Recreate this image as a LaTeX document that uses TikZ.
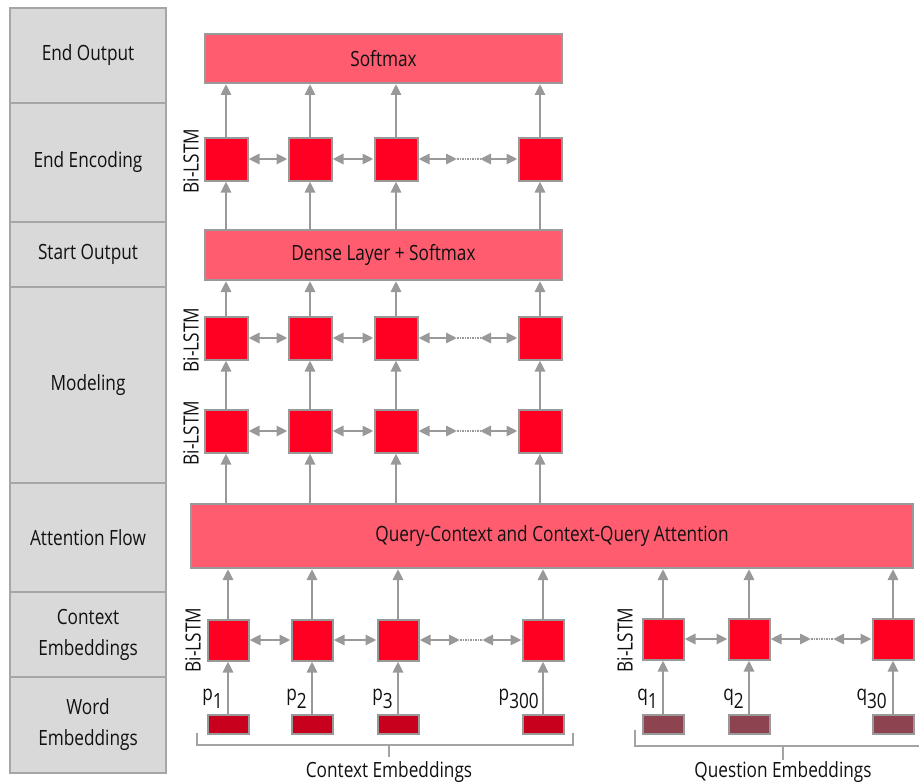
\documentclass[tikz,border=0pt]{standalone}
\usepackage{fontspec}
\setmainfont{Open Sans}[FakeStretch=0.82]
\usetikzlibrary{arrows.meta}
\definecolor{lstmred}{HTML}{FF0022}
\definecolor{bigred}{HTML}{FF5C70}
\definecolor{cembc}{HTML}{C8001E}
\definecolor{qembc}{HTML}{8E4450}
\definecolor{edgec}{HTML}{999999}
\definecolor{colfill}{HTML}{D9D9D9}
\definecolor{coledge}{HTML}{A6A6A6}
\definecolor{txtc}{HTML}{111111}
\begin{document}
\begin{tikzpicture}[x=1pt,y=-1pt,font=\fontsize{21}{31}\selectfont,text=txtc,
  lbl/.style={draw=coledge,fill=colfill,line width=1.2pt,minimum width=156pt,align=center,inner sep=0pt},
  lstmbox/.style={draw=edgec,fill=lstmred,line width=2pt,minimum width=43pt,minimum height=43pt,inner sep=0pt},
  lstmsm/.style={lstmbox,minimum width=41pt,minimum height=41pt},
  bigbox/.style={draw=edgec,fill=bigred,line width=2pt,inner sep=0pt},
  cemb/.style={draw=edgec,fill=cembc,line width=2pt,minimum width=41pt,minimum height=19pt,inner sep=0pt},
  qemb/.style={draw=edgec,fill=qembc,line width=2pt,minimum width=41pt,minimum height=19pt,inner sep=0pt},
  arr/.style={draw=edgec,line width=2.8pt,-{Triangle[length=11pt,width=10pt]}},
  darr/.style={draw=edgec,line width=2.8pt,{Triangle[length=11pt,width=10pt]}-{Triangle[length=11pt,width=10pt]}},
  dotl/.style={draw=edgec,line width=1.4pt,dash pattern=on 1.5pt off 1pt},
  brk/.style={draw=edgec!90,line width=1.6pt},
  rlbl/.style={rotate=90,inner sep=0pt},
  sublbl/.style={inner sep=0pt,anchor=base east}]
\useasboundingbox (0,0) rectangle (919,784);

% left column
\node[lbl,minimum height=95pt]  (l1) at (88,55.5)  {End Output};
\node[lbl,minimum height=119pt] (l2) at (88,162.5) {End Encoding};
\node[lbl,minimum height=65pt]  (l3) at (88,254.5) {Start Output};
\node[lbl,minimum height=196pt] (l4) at (88,385)   {Modeling};
\node[lbl,minimum height=109pt] (l5) at (88,537.5) {Attention Flow};
\node[lbl,minimum height=85pt]  (l6) at (88,634.5) {Context\\Embeddings};
\node[lbl,minimum height=96pt]  (l7) at (88,725)   {Word\\Embeddings};

% big boxes
\node[bigbox,minimum width=357pt,minimum height=49pt] (soft) at (383.5,58.5) {Softmax};
\node[bigbox,minimum width=357pt,minimum height=50pt] (dense) at (383.5,255) {Dense Layer + Softmax};
\node[bigbox,minimum width=722pt,minimum height=64pt] (att) at (552,536) {Query-Context and Context-Query Attention};

% End encoding and modeling rows
\foreach \i/\x in {1/226,2/310,3/396,4/540}{
  \node[lstmbox] (e\i) at (\x,159) {};
  \node[lstmbox] (ma\i) at (\x,338) {};
  \node[lstmbox] (mb\i) at (\x,431) {};
}
\node[rlbl] (be) at (191,161) {Bi-LSTM};
\node[rlbl] (bma) at (191,340) {Bi-LSTM};
\node[rlbl] (bmb) at (191,433) {Bi-LSTM};

% context row
\foreach \i/\x in {1/228,2/312,3/398,4/543}{
  \node[lstmsm] (c\i) at (\x,640) {};
  \node[cemb] (ce\i) at (\x,724) {};
}
\node[rlbl] (bc) at (193,640) {Bi-LSTM};

% question row
\foreach \i/\x in {1/663,2/749,3/893}{
  \node[lstmsm] (q\i) at (\x,639) {};
  \node[qemb] (qe\i) at (\x,724) {};
}
\node[rlbl] (bq) at (625,640) {Bi-LSTM};

% horizontal bidirectional arrows
\foreach \r/\y in {e/159,ma/338,mb/431}{
  \draw[darr] (\r1) -- (\r2);
  \draw[darr] (\r2) -- (\r3);
  \coordinate (\r da) at (457,\y);
  \coordinate (\r db) at (480,\y);
  \draw[darr] (\r3) -- (\r da);
  \draw[dotl] (\r da) -- (\r db);
  \draw[darr] (\r db) -- (\r4);
}
\draw[darr] (c1) -- (c2);
\draw[darr] (c2) -- (c3);
\coordinate (cda) at (460,640);
\coordinate (cdb) at (482,640);
\draw[darr] (c3) -- (cda);
\draw[dotl] (cda) -- (cdb);
\draw[darr] (cdb) -- (c4);
\draw[darr] (q1) -- (q2);
\coordinate (qda) at (811,639);
\coordinate (qdb) at (833,639);
\draw[darr] (q2) -- (qda);
\draw[dotl] (qda) -- (qdb);
\draw[darr] (qdb) -- (q3);

% vertical arrows
\foreach \i in {1,2,3,4}{
  \draw[arr] (e\i.north) -- (e\i.north |- soft.south);
  \draw[arr] (e\i.south |- dense.north) -- (e\i.south);
  \draw[arr] (ma\i.north) -- (ma\i.north |- dense.south);
  \draw[arr] (mb\i.north) -- (ma\i.south);
  \draw[arr] (mb\i.south |- att.north) -- (mb\i.south);
  \draw[arr] (c\i.north) -- (c\i.north |- att.south);
  \draw[arr] (ce\i.north) -- (c\i.south);
}
\foreach \i in {1,2,3}{
  \draw[arr] (q\i.north) -- (q\i.north |- att.south);
  \draw[arr] (qe\i.north) -- (q\i.south);
}

% subscript labels
\node[sublbl] (lp1) at (223,700) {p\raisebox{-8pt}{1}};
\node[sublbl] (lp2) at (307,700) {p\raisebox{-8pt}{2}};
\node[sublbl] (lp3) at (393,700) {p\raisebox{-8pt}{3}};
\node[sublbl] (lp4) at (539,700) {p\raisebox{-8pt}{300}};
\node[sublbl] (lq1) at (658,700) {q\raisebox{-8pt}{1}};
\node[sublbl] (lq2) at (744,700) {q\raisebox{-8pt}{2}};
\node[sublbl] (lq3) at (887,700) {q\raisebox{-8pt}{30}};

% brackets
\coordinate (cb1) at (197,733);
\coordinate (cb2) at (197,745);
\coordinate (cb3) at (573,745);
\coordinate (cb4) at (573,733);
\coordinate (cbm) at (389,745);
\coordinate (cbt) at (389,757);
\draw[brk] (cb1) -- (cb2) -- (cb3) -- (cb4);
\draw[brk] (cbm) -- (cbt);
\node[anchor=base,inner sep=0pt] (ctxt) at (389,777) {Context Embeddings};
\coordinate (qb1) at (635,730);
\coordinate (qb2) at (635,746);
\coordinate (qb3) at (919,746);
\coordinate (qbm) at (783,746);
\coordinate (qbt) at (783,760);
\draw[brk] (qb1) -- (qb2) -- (qb3);
\draw[brk] (qbm) -- (qbt);
\node[anchor=base,inner sep=0pt] (qtxt) at (783,777) {Question Embeddings};
\end{tikzpicture}
\end{document}
